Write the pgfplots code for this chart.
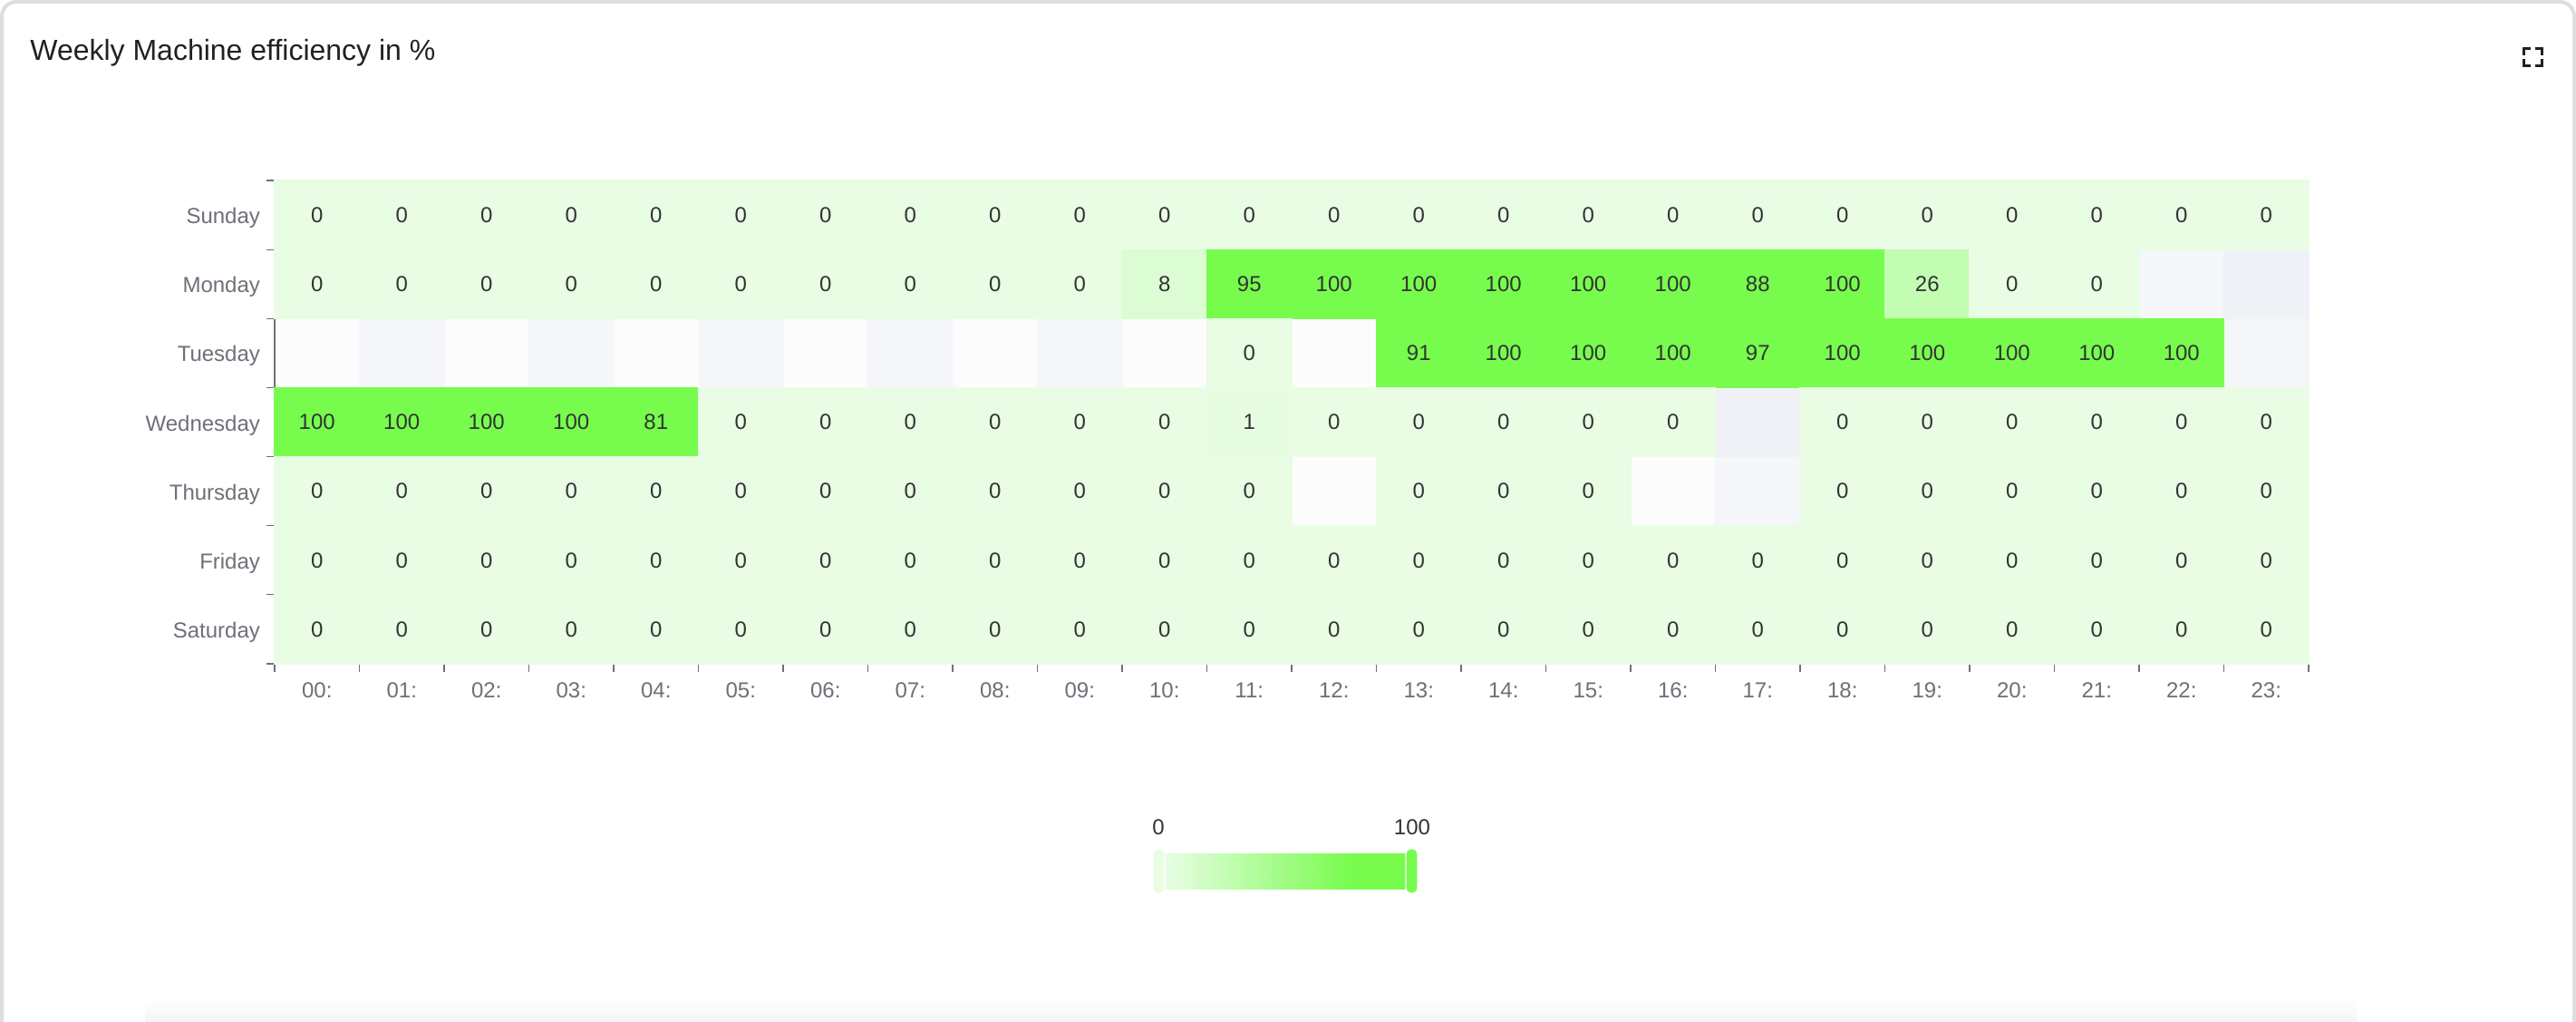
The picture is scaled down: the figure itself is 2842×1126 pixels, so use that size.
\documentclass[border=0pt]{standalone}
\usepackage{fontspec}
\setmainfont{Liberation Sans}
\usepackage{pgfplots}
\usepackage{pgfplotstable}
\pgfplotsset{compat=1.18}
\definecolor{tickgray}{RGB}{110,112,121}
\definecolor{cellcol}{RGB}{51,51,51}
\definecolor{titlecol}{RGB}{33,33,33}
\definecolor{bgA}{RGB}{252,252,253}
\definecolor{bgB}{RGB}{245,246,250}
\definecolor{bgC}{RGB}{246,247,250}
\definecolor{bgD}{RGB}{239,241,246}
\definecolor{czero}{RGB}{232,253,228}
\definecolor{cfull}{RGB}{119,252,77}
\definecolor{cardgray}{RGB}{222,222,222}
\pgfplotsset{colormap={effgreen}{rgb255(0cm)=(232,253,228) rgb255(7.8cm)=(119,252,77) rgb255(10cm)=(119,252,77)}}
\pgfdeclareplotmark{cell}{\pgfpathrectangle{\pgfpoint{-23.675pt}{-19.336pt}}{\pgfpoint{47.35pt}{38.672pt}}\pgfusepathqfill}
\newcommand\lblfont{\fontsize{12}{14}\selectfont}

% x = hour index, y = day index (0 Saturday ... 6 Sunday), v = efficiency in %
\pgfplotstableread[row sep=\\]{x y v\\
0 6 0\\ 1 6 0\\ 2 6 0\\ 3 6 0\\ 4 6 0\\ 5 6 0\\ 6 6 0\\ 7 6 0\\ 8 6 0\\ 9 6 0\\ 10 6 0\\ 11 6 0\\
12 6 0\\ 13 6 0\\ 14 6 0\\ 15 6 0\\ 16 6 0\\ 17 6 0\\ 18 6 0\\ 19 6 0\\ 20 6 0\\ 21 6 0\\ 22 6 0\\ 23 6 0\\
}\sunday
\pgfplotstableread[row sep=\\]{x y v\\
0 5 0\\ 1 5 0\\ 2 5 0\\ 3 5 0\\ 4 5 0\\ 5 5 0\\ 6 5 0\\ 7 5 0\\ 8 5 0\\ 9 5 0\\ 10 5 8\\ 11 5 95\\
12 5 100\\ 13 5 100\\ 14 5 100\\ 15 5 100\\ 16 5 100\\ 17 5 88\\ 18 5 100\\ 19 5 26\\ 20 5 0\\ 21 5 0\\
}\monday
\pgfplotstableread[row sep=\\]{x y v\\
11 4 0\\ 13 4 91\\ 14 4 100\\ 15 4 100\\ 16 4 100\\ 17 4 97\\ 18 4 100\\ 19 4 100\\ 20 4 100\\ 21 4 100\\ 22 4 100\\
}\tuesday
\pgfplotstableread[row sep=\\]{x y v\\
0 3 100\\ 1 3 100\\ 2 3 100\\ 3 3 100\\ 4 3 81\\ 5 3 0\\ 6 3 0\\ 7 3 0\\ 8 3 0\\ 9 3 0\\ 10 3 0\\ 11 3 1\\
12 3 0\\ 13 3 0\\ 14 3 0\\ 15 3 0\\ 16 3 0\\ 18 3 0\\ 19 3 0\\ 20 3 0\\ 21 3 0\\ 22 3 0\\ 23 3 0\\
}\wednesday
\pgfplotstableread[row sep=\\]{x y v\\
0 2 0\\ 1 2 0\\ 2 2 0\\ 3 2 0\\ 4 2 0\\ 5 2 0\\ 6 2 0\\ 7 2 0\\ 8 2 0\\ 9 2 0\\ 10 2 0\\ 11 2 0\\
13 2 0\\ 14 2 0\\ 15 2 0\\ 18 2 0\\ 19 2 0\\ 20 2 0\\ 21 2 0\\ 22 2 0\\ 23 2 0\\
}\thursday
\pgfplotstableread[row sep=\\]{x y v\\
0 1 0\\ 1 1 0\\ 2 1 0\\ 3 1 0\\ 4 1 0\\ 5 1 0\\ 6 1 0\\ 7 1 0\\ 8 1 0\\ 9 1 0\\ 10 1 0\\ 11 1 0\\
12 1 0\\ 13 1 0\\ 14 1 0\\ 15 1 0\\ 16 1 0\\ 17 1 0\\ 18 1 0\\ 19 1 0\\ 20 1 0\\ 21 1 0\\ 22 1 0\\ 23 1 0\\
}\friday
\pgfplotstableread[row sep=\\]{x y v\\
0 0 0\\ 1 0 0\\ 2 0 0\\ 3 0 0\\ 4 0 0\\ 5 0 0\\ 6 0 0\\ 7 0 0\\ 8 0 0\\ 9 0 0\\ 10 0 0\\ 11 0 0\\
12 0 0\\ 13 0 0\\ 14 0 0\\ 15 0 0\\ 16 0 0\\ 17 0 0\\ 18 0 0\\ 19 0 0\\ 20 0 0\\ 21 0 0\\ 22 0 0\\ 23 0 0\\
}\saturday

\pgfplotsset{
  heatgeom/.style={
    at={(151.5pt,197pt)}, anchor=south west,
    width=1122pt, height=266.5pt, scale only axis,
    xmin=-0.5, xmax=23.5, ymin=-0.5, ymax=6.5,
  },
  cellplot/.style={
    scatter, only marks, mark=square*, mark size=19.15pt,
    mark options={xscale=1.2244, line width=0.4pt},
    scatter/use mapped color={draw=mapped color, fill=mapped color},
    point meta=explicit,
    nodes near coords*,
    every node near coord/.append style={font=\lblfont, text=cellcol, anchor=center},
  },
}

\begin{document}
\begin{tikzpicture}[x=0.5pt,y=0.5pt]
\useasboundingbox (0,0) rectangle (2842,1126);
\fill[white] (0,0) rectangle (2842,1126);
\shade[top color=white, bottom color=black!4] (160,0) rectangle (2600,26);
\draw[draw=cardgray, line width=2pt, rounded corners=8pt] (2,-60) -- (2,1124) -- (2840,1124) -- (2840,-60);

\node[anchor=base west, font=\fontsize{16}{19}\selectfont, text=titlecol, inner sep=0pt] at (33,1059) {Weekly Machine efficiency in \%};

% fullscreen icon
\begin{scope}[line width=1.5pt, draw=titlecol, line cap=butt, line join=miter]
\draw (2784.5,1065) -- (2784.5,1072.5) -- (2792,1072.5);
\draw (2797,1072.5) -- (2804.5,1072.5) -- (2804.5,1065);
\draw (2784.5,1061) -- (2784.5,1053.5) -- (2792,1053.5);
\draw (2797,1053.5) -- (2804.5,1053.5) -- (2804.5,1061);
\end{scope}

% background split areas (visible where there is no value)
\begin{axis}[heatgeom, hide axis]
\addplot[only marks, mark=cell, color=bgA] coordinates {(0,4) (2,4) (4,4) (6,4) (8,4) (10,4) (12,4) (12,2) (16,2)};
\addplot[only marks, mark=cell, color=bgB] coordinates {(1,4) (3,4) (5,4) (7,4) (9,4) (23,4) (17,2)};
\addplot[only marks, mark=cell, color=bgC] coordinates {(22,5)};
\addplot[only marks, mark=cell, color=bgD] coordinates {(23,5) (17,3)};
\end{axis}

% heatmap
\begin{axis}[heatgeom,
  axis x line*=bottom, axis y line*=left,
  axis line style={-, draw=tickgray, line width=0.6pt},
  tick pos=left,
  xtick={0,...,23},
  xticklabels={00:,01:,02:,03:,04:,05:,06:,07:,08:,09:,10:,11:,12:,13:,14:,15:,16:,17:,18:,19:,20:,21:,22:,23:},
  ytick={0,...,6},
  yticklabels={Saturday,Friday,Thursday,Wednesday,Tuesday,Monday,Sunday},
  major tick length=0pt,
  minor xtick={-0.5,0.5,...,23.5},
  minor ytick={-0.5,0.5,...,6.5},
  minor tick length=4.5pt,
  tick align=outside,
  tick style={draw=tickgray, line width=0.6pt},
  ticklabel style={font=\lblfont, text=tickgray},
  xticklabel style={yshift=-7pt},
  yticklabel style={anchor=base east, yshift=-4.8pt, xshift=-4.5pt},
  colormap name=effgreen, point meta min=0, point meta max=100,
  /pgf/number format/assume math mode=true,
  clip=false,
]
\addplot[cellplot] table[x=x, y=y, meta=v] {\sunday};
\addplot[cellplot] table[x=x, y=y, meta=v] {\monday};
\addplot[cellplot] table[x=x, y=y, meta=v] {\tuesday};
\addplot[cellplot] table[x=x, y=y, meta=v] {\wednesday};
\addplot[cellplot] table[x=x, y=y, meta=v] {\thursday};
\addplot[cellplot] table[x=x, y=y, meta=v] {\friday};
\addplot[cellplot] table[x=x, y=y, meta=v] {\saturday};
\end{axis}

% visual map (colour scale)
\begin{axis}[at={(642.5pt,73pt)}, anchor=south west, width=132.5pt, height=19.5pt,
  scale only axis, hide axis, xmin=0, xmax=100, ymin=0, ymax=1,
  colormap name=effgreen, point meta min=0, point meta max=100]
\addplot[surf, shader=interp, mesh/cols=3, point meta=explicit] table[row sep=\\, x=x, y=y, meta=v] {x y v\\ 0 0 0\\ 78 0 78\\ 100 0 100\\ 0 1 0\\ 78 1 78\\ 100 1 100\\};
\end{axis}
\filldraw[fill=czero, draw=white, line width=0.6pt, rounded corners=2.5pt] (1272,141) rectangle (1285,190);
\filldraw[fill=cfull, draw=white, line width=0.6pt, rounded corners=2.5pt] (1551,141) rectangle (1564,190);
\node[anchor=base, font=\lblfont, text=cellcol, inner sep=0pt] at (1278,206) {0};
\node[anchor=base, font=\lblfont, text=cellcol, inner sep=0pt] at (1558,206) {100};
\end{tikzpicture}
\end{document}
